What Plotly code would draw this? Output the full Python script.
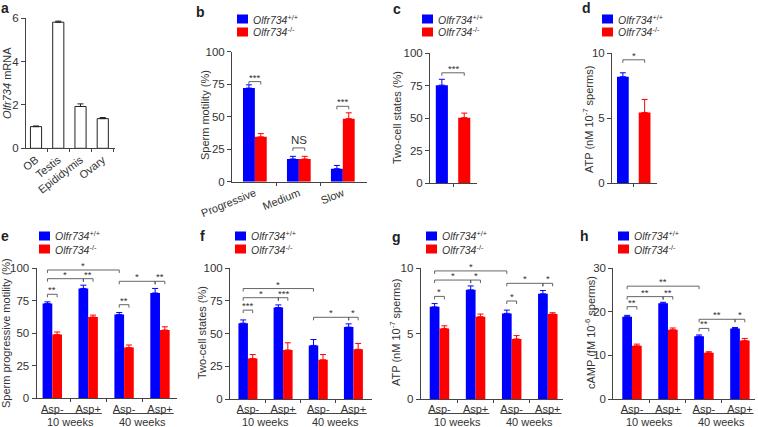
import plotly.graph_objects as go

W, H = 758, 427
BLUE = "#0000ff"
RED = "#ff0000"
AX = "#444444"
FONT = "Arial, Liberation Sans, sans-serif"

# ---------------- data ----------------
series_names = ["<i>Olfr734</i><sup>+/+</sup>", "<i>Olfr734</i><sup>-/-</sup>"]

# a
tissues = ["OB", "Testis", "Epididymis", "Ovary"]
mrna = [1.0, 5.82, 1.93, 1.37]
mrna_err = [0.03, 0.05, 0.12, 0.05]

# b
motility_cats = ["Progressive", "Medium", "Slow"]
motility_wt = [72, 17.5, 10]
motility_wt_err = [2.5, 2, 2.5]
motility_ko = [34.5, 17.5, 48.5]
motility_ko_err = [2.5, 2, 4.5]

# c
twocell_wt = [75.5]
twocell_wt_err = [4.5]
twocell_ko = [50.5]
twocell_ko_err = [3.5]

# d
atp_wt = [8.2]
atp_wt_err = [0.3]
atp_ko = [5.45]
atp_ko_err = [1.0]

# e-h
asp_labels = ["Asp-", "Asp+", "Asp-", "Asp+"]
age_labels = ["10 weeks", "40 weeks"]

prog_wt = [73, 84.5, 64.5, 81]
prog_wt_err = [1.2, 2.5, 1.5, 3.5]
prog_ko = [49, 62.5, 39, 52.5]
prog_ko_err = [2, 1.5, 2, 2.5]

two_wt = [58, 70, 41, 55]
two_wt_err = [2.5, 2, 4.5, 2.5]
two_ko = [31, 37.5, 30, 38]
two_ko_err = [3, 5.5, 4, 4.5]

atp2_wt = [7.05, 8.35, 6.55, 8.05]
atp2_wt_err = [0.25, 0.3, 0.25, 0.25]
atp2_ko = [5.4, 6.3, 4.6, 6.5]
atp2_ko_err = [0.2, 0.2, 0.25, 0.1]

camp_wt = [18.9, 22.0, 14.4, 16.2]
camp_wt_err = [0.3, 0.2, 0.3, 0.2]
camp_ko = [12.2, 15.9, 10.6, 13.4]
camp_ko_err = [0.4, 0.4, 0.25, 0.5]

# significance: ((group, series), (group, series), level, label)
sig_b = [((0, 0), (0, 1), 77, "***"), ((1, 0), (1, 1), 26, "NS"), ((2, 0), (2, 1), 58, "***")]
sig_c = [((0, 0), (1, 0), 85, "***")]
sig_d = [((0, 0), (1, 0), 9.5, "*")]
sig_e = [((0, 0), (2, 0), 98.7, "*"), ((0, 0), (1, 0), 92, "*"), ((1, 0), (1, 1), 92, "**"),
         ((0, 0), (0, 1), 80, "**"), ((2, 0), (3, 0), 90, "*"), ((3, 0), (3, 1), 90, "**"),
         ((2, 0), (2, 1), 72, "**")]
sig_f = [((0, 0), (2, 0), 84.5, "*"), ((0, 0), (1, 0), 77.5, "*"), ((1, 0), (1, 1), 77.5, "***"),
         ((0, 0), (0, 1), 68, "***"), ((2, 0), (3, 0), 62.5, "*"), ((3, 0), (3, 1), 62.5, "*")]
sig_g = [((0, 0), (2, 0), 9.8, "*"), ((0, 0), (1, 0), 9.1, "*"), ((1, 0), (1, 1), 9.1, "*"),
         ((0, 0), (0, 1), 7.85, "*"), ((2, 0), (3, 0), 8.85, "*"), ((3, 0), (3, 1), 8.85, "*"),
         ((2, 0), (2, 1), 7.5, "*")]
sig_h = [((0, 0), (2, 0), 25.9, "**"), ((0, 0), (1, 0), 23.5, "**"), ((1, 0), (1, 1), 23.5, "**"),
         ((0, 0), (0, 1), 21.2, "**"), ((2, 0), (3, 0), 18.3, "**"), ((3, 0), (3, 1), 18.3, "*"),
         ((2, 0), (2, 1), 16.2, "**")]

# ---------------- figure ----------------
fig = go.Figure()
shapes = []
annotations = []
layout_axes = {}


def key(n):
    return "" if n == 1 else str(n)


def setup(n, xpx, ypx, xr, yr, yticks, xvals, xtext, tickangle=0, boundaries=None):
    xa = dict(domain=[xpx[0] / W, xpx[1] / W], range=xr, anchor="y" + key(n), automargin=False,
              showline=True, linecolor=AX, linewidth=1, showgrid=False, zeroline=False,
              tickmode="array", tickvals=xvals, ticktext=xtext, ticks="", tickangle=tickangle,
              tickfont=dict(size=11, color="#333", family=FONT), fixedrange=True)
    if boundaries:
        xa["minor"] = dict(tickmode="array", tickvals=boundaries, ticks="outside", ticklen=3,
                           tickcolor=AX, tickwidth=1, showgrid=False)
    ya = dict(domain=[1 - ypx[1] / H, 1 - ypx[0] / H], range=yr, anchor="x" + key(n), automargin=False,
              showline=True, linecolor=AX, linewidth=1, showgrid=False, zeroline=False,
              tickmode="array", tickvals=yticks, ticks="outside", ticklen=4, tickcolor=AX,
              tickfont=dict(size=11.5, color="#333", family=FONT), fixedrange=True)
    layout_axes["xaxis" + key(n)] = xa
    layout_axes["yaxis" + key(n)] = ya


def bar(n, x, y, err, color, width, offset, line=None, errcolor=None):
    fig.add_trace(go.Bar(
        x=x, y=y, width=width, offset=offset, xaxis="x" + key(n), yaxis="y" + key(n),
        marker=dict(color=color, line=dict(color=line or color, width=1 if line else 0)),
        error_y=dict(type="data", symmetric=False, array=err, arrayminus=[0] * len(err),
                     color=errcolor or color, thickness=1, width=3),
        showlegend=False, hoverinfo="skip"))


def brackets(n, sigs, bw, yr, hpx, xpos=None, fs=9.5):
    d = 3 * (yr[1] - yr[0]) / hpx
    for (g0, s0), (g1, s1), lev, lab in sigs:
        if xpos is None:
            xa_ = g0 + (s0 - 0.5) * bw
            xb_ = g1 + (s1 - 0.5) * bw
        else:
            xa_, xb_ = xpos[g0], xpos[g1]
        shapes.append(dict(type="path", xref="x" + key(n), yref="y" + key(n),
                           path=f"M {xa_},{lev - d} L {xa_},{lev} L {xb_},{lev} L {xb_},{lev - d}",
                           line=dict(color="#555", width=0.9)))
        annotations.append(dict(x=(xa_ + xb_) / 2, y=lev, xref="x" + key(n), yref="y" + key(n),
                                text=lab, showarrow=False, yanchor="bottom",
                                yshift=-3 if lab != "NS" else 0,
                                font=dict(size=fs if lab != "NS" else 11.5, color="#333", family=FONT)))


def legend(xl, yt):
    for i, (name, col) in enumerate(zip(series_names, [BLUE, RED])):
        top = yt + i * 13
        shapes.append(dict(type="rect", xref="paper", yref="paper",
                           x0=xl / W, x1=(xl + 11) / W, y0=1 - (top + 9) / H, y1=1 - top / H,
                           fillcolor=col, line=dict(width=0)))
        annotations.append(dict(x=(xl + 14) / W, y=1 - (top + 4.5) / H, xref="paper", yref="paper",
                                text=name, showarrow=False, xanchor="left", yanchor="middle",
                                font=dict(size=10.5, color="#333", family=FONT)))


def ytitle(text, xc, yc):
    annotations.append(dict(x=xc / W, y=1 - yc / H, xref="paper", yref="paper", text=text,
                            textangle=-90, showarrow=False, xanchor="center", yanchor="middle",
                            font=dict(size=11, color="#333", family=FONT)))


def letter(t, xc, yc):
    annotations.append(dict(x=xc / W, y=1 - yc / H, xref="paper", yref="paper", text="<b>" + t + "</b>",
                            showarrow=False, xanchor="center", yanchor="middle",
                            font=dict(size=14, color="#222", family=FONT)))


# ---- a ----
xa_pos = list(range(len(tissues)))
setup(1, (26, 115), (18.3, 148.3), [-0.45, 3.55], [0, 6], [0, 2, 4, 6], xa_pos, tissues,
      tickangle=-38, boundaries=[0.5, 1.5, 2.5, 3.5])
bar(1, xa_pos, mrna, mrna_err, "white", 0.5, -0.25, line="#222", errcolor="#222")
ytitle("<i>Olfr734</i> mRNA", 7, 83)
letter("a", 5, 8)

# ---- b ----
BWb = 0.27
xb_pos = list(range(len(motility_cats)))
setup(2, (232, 367), (51.7, 181.7), [-0.52, 2.55], [0, 100], [0, 25, 50, 75, 100], xb_pos,
      motility_cats, tickangle=-22, boundaries=[0.5, 1.5])
bar(2, xb_pos, motility_wt, motility_wt_err, BLUE, BWb, -BWb)
bar(2, xb_pos, motility_ko, motility_ko_err, RED, BWb, 0)
brackets(2, sig_b, BWb, [0, 100], 130)
ytitle("Sperm motility (%)", 205, 115)
legend(237, 14.5)
letter("b", 200, 12)

# ---- c ----
BWc = 0.54
setup(3, (430, 477), (53.3, 183.3), [-0.53, 1.57], [0, 100], [0, 25, 50, 75, 100], [], [],
      boundaries=[0.5])
bar(3, [0], twocell_wt, twocell_wt_err, BLUE, BWc, -BWc / 2)
bar(3, [1], twocell_ko, twocell_ko_err, RED, BWc, -BWc / 2)
brackets(3, sig_c, BWc, [0, 100], 130, xpos=[0, 1])
ytitle("Two-cell states (%)", 397, 118)
legend(422, 14.5)
letter("c", 397, 9)

# ---- d ----
setup(4, (612, 657), (53.3, 183.3), [-0.5, 1.57], [0, 10], [0, 5, 10], [], [],
      boundaries=[0.5])
bar(4, [0], atp_wt, atp_wt_err, BLUE, BWc, -BWc / 2)
bar(4, [1], atp_ko, atp_ko_err, RED, BWc, -BWc / 2)
brackets(4, sig_d, BWc, [0, 10], 130, xpos=[0, 1])
ytitle("ATP (nM 10<sup>-7</sup> sperms)", 588, 120)
legend(602, 14.5)
letter("d", 586, 8)

# ---- e-h ----
BW = 0.27
xg = list(range(len(asp_labels)))
lower = [
    (5, (36.5, 176.5), (268.3, 398.3), [-0.44, 3.46], [0, 100], [0, 25, 50, 75, 100],
     prog_wt, prog_wt_err, prog_ko, prog_ko_err, sig_e, "Sperm progressive motility (%)", 6, (39, 231.5), ("e", 5, 236)),
    (6, (230, 371.7), (268.3, 399), [-0.51, 3.52], [0, 100], [0, 25, 50, 75, 100],
     two_wt, two_wt_err, two_ko, two_ko_err, sig_f, "Two-cell states (%)", 202, (235, 231.5), ("f", 202, 236)),
    (7, (420.7, 563.3), (268.3, 399), [-0.52, 3.43], [0, 10], [0, 5, 10],
     atp2_wt, atp2_wt_err, atp2_ko, atp2_ko_err, sig_g, "ATP (nM 10<sup>-7</sup> sperms)", 395, (426, 231.5), ("g", 396, 237)),
    (8, (613.3, 755), (268.3, 399), [-0.52, 3.42], [0, 30], [0, 10, 20, 30],
     camp_wt, camp_wt_err, camp_ko, camp_ko_err, sig_h, "cAMP (fM 10<sup>-6</sup> sperms)", 590, (618, 231.5), ("h", 584, 236)),
]
for (n, xpx, ypx, xr, yr, yt, wt, wte, ko, koe, sig, title, tx, lg, let) in lower:
    setup(n, xpx, ypx, xr, yr, yt, xg, asp_labels, boundaries=[0.5, 1.5, 2.5])
    bar(n, xg, wt, wte, BLUE, BW, -BW)
    bar(n, xg, ko, koe, RED, BW, 0)
    brackets(n, sig, BW, yr, ypx[1] - ypx[0])
    ytitle(title, tx, 333)
    legend(*lg)
    letter(*let)
    # age group labels with underline
    for gi, age in enumerate(age_labels):
        g0, g1 = 2 * gi, 2 * gi + 1
        fx0 = (g0 - 0.31 - xr[0]) / (xr[1] - xr[0])
        fx1 = (g1 + 0.38 - xr[0]) / (xr[1] - xr[0])
        shapes.append(dict(type="line", xref="x" + key(n) + " domain", yref="paper",
                           x0=fx0, x1=fx1, y0=1 - 413.5 / H, y1=1 - 413.5 / H,
                           line=dict(color="#444", width=1)))
        annotations.append(dict(x=(g0 + g1) / 2, y=1 - 422 / H, xref="x" + key(n), yref="paper",
                                text=age, showarrow=False, yanchor="middle",
                                font=dict(size=11, color="#333", family=FONT)))

fig.update_layout(
    width=W, height=H, margin=dict(l=0, r=0, t=0, b=0, autoexpand=False),
    paper_bgcolor="white", plot_bgcolor="white", barmode="overlay",
    showlegend=False, font=dict(family=FONT, color="#333"),
    shapes=shapes, annotations=annotations, **layout_axes)

fig.write_html("out.html", config={"displayModeBar": False},
               post_script="document.body.style.margin='0';document.body.style.padding='0';"
                           "document.body.style.overflow='hidden';")
